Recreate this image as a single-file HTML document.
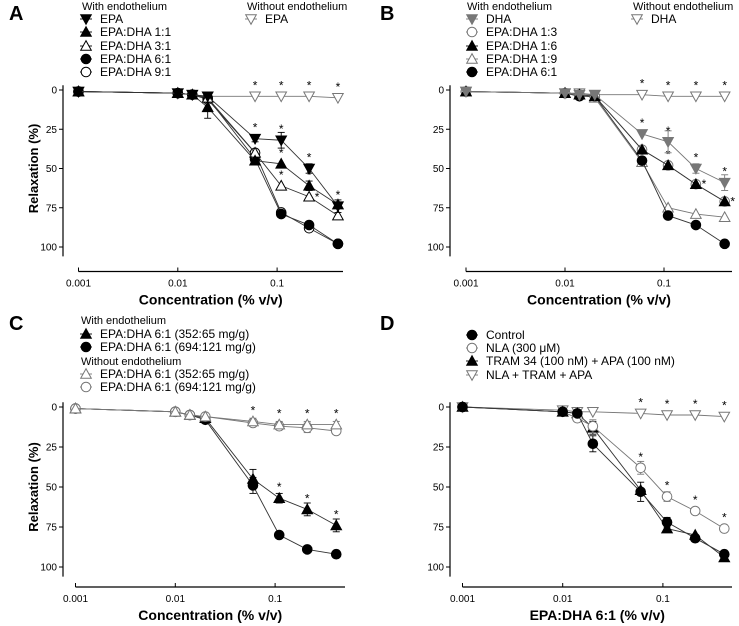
<!DOCTYPE html>
<html><head><meta charset="utf-8"><style>
html,body{margin:0;padding:0;background:#fff;}
svg{display:block;font-family:"Liberation Sans",Arial,sans-serif;}
</style></head><body>
<svg id="fig" width="739" height="626" viewBox="0 0 739 626" xmlns="http://www.w3.org/2000/svg"></svg>
<script>
const doses = [0.001,0.01,0.014,0.02,0.06,0.11,0.21,0.41];
const yTicks = [0,25,50,75,100];
const xTicks = [0.001,0.01,0.1];
const xTickLabels = ["0.001","0.01","0.1"];

// Panel A
const aEPA = [1,2,3,4,31,32,50,74];
const aEPA11 = [1,2,3,11,45,47,61,73];
const aEPA31 = [1,2,3,5,40,61,68,80];
const aEPA61 = [1,2,3,5,44,79,86,98];
const aEPA91 = [1,2,3,6,40,78,88,98];
const aEPAnoE = [1,2,3,4,4,4,4,5];
// Panel B
const bDHA = [1,2,3,3,28,33,50,59];
const bEPA13 = [1,2,3,4,38,48,60,71];
const bEPA16 = [1,2,3,4,38,48,60,71];
const bEPA19 = [1,2,3,5,46,75,79,81];
const bEPA61 = [1,2,4,4,45,80,86,98];
const bDHAnoE = [1,2,2,3,3,4,4,4];
// Panel C
const cTriE = [1,3,5,7,45,57,64,74];
const cCirE = [1,3,5,8,49,80,89,92];
const cTriNoE = [1,3,5,6,9,11,11,11];
const cCirNoE = [1,3,5,6,10,12,13,15];
// Panel D
const dControl = [0,3,4,23,53,72,82,92];
const dNLA = [0,3,7,12,38,56,65,76];
const dTRAM = [0,3,4,13,52,76,80,94];
const dAll = [0,2,3,3,4,5,5,6];

const NS="http://www.w3.org/2000/svg";
const svg=document.getElementById('fig');
function mk(tag,attrs,parent){const e=document.createElementNS(NS,tag);for(const k in attrs)e.setAttribute(k,attrs[k]);(parent||svg).appendChild(e);return e;}
function txt(s,attrs,parent){const e=mk('text',attrs,parent);e.textContent=s;return e;}

function marker(g,type,x,y,color){
  const fill = type.startsWith('f') ? color : '#fff';
  const r=4.8;
  let e;
  if(type.endsWith('circle')) e=mk('circle',{cx:x,cy:y,r:r,fill:fill,stroke:color,'stroke-width':1},g);
  else if(type.endsWith('up')) e=mk('polygon',{points:`${x},${y-r-0.5} ${x-r-0.5},${y+r-0.5} ${x+r+0.5},${y+r-0.5}`,fill:fill,stroke:color,'stroke-width':1},g);
  else e=mk('polygon',{points:`${x},${y+r+0.5} ${x-r-0.5},${y-r+0.5} ${x+r+0.5},${y-r+0.5}`,fill:fill,stroke:color,'stroke-width':1},g);
  return e;
}

function panel(cfg){
  const g=mk('g',{});
  
  
  const xs=v=>cfg.x0+(Math.log10(v)+3)*cfg.dec;
  const ys=v=>cfg.y0+v*cfg.yk;
  const l=txt(cfg.letter,{x:cfg.lx,y:cfg.ly,'font-size':20,'font-weight':'bold'},g);
  
  
  const ya=mk('line',{x1:cfg.ax,y1:ys(-3),x2:cfg.ax,y2:ys(106),stroke:'#000','stroke-width':1.2},g);
  
  
  yTicks.forEach(t=>{
    mk('line',{x1:cfg.ax-4,y1:ys(t),x2:cfg.ax,y2:ys(t),stroke:'#000','stroke-width':1},g);
    const tl=txt(String(t),{x:cfg.ax-6,y:ys(t)+3.5,'font-size':10,'text-anchor':'end'},g);
    
    
  });
  if(cfg.ytitle){
    const yt=txt(cfg.ytitle,{x:0,y:0,'font-size':13,'font-weight':'bold','text-anchor':'middle',transform:`translate(${cfg.ax-25},${ys(50)}) rotate(-90)`},g);
    
    
  }
  const xa=mk('line',{x1:xs(0.001),y1:cfg.xay,x2:cfg.xend,y2:cfg.xay,stroke:'#000','stroke-width':1.2},g);
  
  
  xTicks.forEach((t,i)=>{
    mk('line',{x1:xs(t),y1:cfg.xay-4,x2:xs(t),y2:cfg.xay,stroke:'#000','stroke-width':1},g);
    const tl=txt(xTickLabels[i],{x:xs(t),y:cfg.xay+15,'font-size':10,'text-anchor':'middle'},g);
    
    
  });
  const xt=txt(cfg.xtitle,{x:(xs(0.001)+cfg.xend)/2,y:cfg.xay+33,'font-size':14,'font-weight':'bold','text-anchor':'middle'},g);
  
  
  cfg.series.forEach(s=>{
    const sg=mk('g',{},g);
    
    
    const pts=s.data.map((v,i)=>xs(doses[i])+','+ys(v)).join(' ');
    mk('polyline',{points:pts,fill:'none',stroke:s.color==='#000'?'#333':s.color,'stroke-width':0.9},sg);
    if(s.err) s.err.forEach((e,i)=>{ if(!e) return;
      const x=xs(doses[i]),y1=ys(s.data[i]-e),y2=ys(s.data[i]+e);
      mk('line',{x1:x,y1:y1,x2:x,y2:y2,stroke:s.color,'stroke-width':0.9},sg);
      mk('line',{x1:x-3.5,y1:y1,x2:x+3.5,y2:y1,stroke:s.color,'stroke-width':0.9},sg);
      mk('line',{x1:x-3.5,y1:y2,x2:x+3.5,y2:y2,stroke:s.color,'stroke-width':0.9},sg);
    });
    s.data.forEach((v,i)=>{const m=marker(sg,s.type,xs(doses[i]),ys(v),s.color);
      
      });
    if(s.stars) s.stars.forEach(st=>{
      const idx=st[0], off=st[1]||0;
      const sx=xs(doses[idx])+(off?8:0), sy=ys(s.data[idx])-(off?-4:7);
      const t=txt('*',{x:sx,y:sy,'font-size':12,'text-anchor':'middle'},sg);
      
      
    });
  });
  cfg.legend.forEach(L=>{
    if(L.head){const h=txt(L.head,{x:L.x,y:L.y,'font-size':11},g);
      
      return;}
    const lg=mk('g',{},g);
    
    
    mk('line',{x1:L.x-6,y1:L.y-4,x2:L.x+6,y2:L.y-4,stroke:L.color,'stroke-width':0.9},lg);
    marker(lg,L.type,L.x,L.y-4,L.color);
    txt(L.label,{x:L.x+14,y:L.y,'font-size':12},lg);
  });
}

const K='#000', G='#777';
panel({letter:'A',lx:9,ly:20,ax:63,x0:78.5,dec:99.3,y0:90,yk:1.57,xay:271.5,xend:343,
  ytitle:'Relaxation (%)',xtitle:'Concentration (% v/v)',
  series:[
    {name:'epa-no-endo',data:aEPAnoE,type:'o-down',color:G,stars:[[4],[5],[6],[7]]},
    {name:'epa-9-1',data:aEPA91,type:'o-circle',color:K},
    {name:'epa-6-1',data:aEPA61,type:'f-circle',color:K},
    {name:'epa-3-1',data:aEPA31,type:'o-up',color:K,stars:[[5],[6,1]]},
    {name:'epa-1-1',data:aEPA11,type:'f-up',color:K,err:[0,0,0,7,0,0,3,0],stars:[[5],[6]]},
    {name:'epa',data:aEPA,type:'f-down',color:K,err:[0,0,0,0,2,5,3,4],stars:[[4],[5],[6],[7]]}],
  legend:[{head:'With endothelium',x:82,y:10},
    {x:86,y:23,type:'f-down',color:K,label:'EPA'},
    {x:86,y:36,type:'f-up',color:K,label:'EPA:DHA 1:1'},
    {x:86,y:50,type:'o-up',color:K,label:'EPA:DHA 3:1'},
    {x:86,y:63,type:'f-circle',color:K,label:'EPA:DHA 6:1'},
    {x:86,y:76,type:'o-circle',color:K,label:'EPA:DHA 9:1'},
    {head:'Without endothelium',x:247,y:10},
    {x:251,y:23,type:'o-down',color:G,label:'EPA'}]});

panel({letter:'B',lx:380,ly:20,ax:450,x0:466,dec:99,y0:90,yk:1.57,xay:271.5,xend:732,
  xtitle:'Concentration (% v/v)',
  series:[
    {name:'dha-no-endo',data:bDHAnoE,type:'o-down',color:G,stars:[[4],[5],[6],[7]]},
    {name:'epa-1-9',data:bEPA19,type:'o-up',color:G,stars:[[7]]},
    {name:'epa-6-1',data:bEPA61,type:'f-circle',color:K},
    {name:'epa-1-3',data:bEPA13,type:'o-circle',color:G},
    {name:'epa-1-6',data:bEPA16,type:'f-up',color:K,stars:[[5],[6,1],[7,1]]},
    {name:'dha',data:bDHA,type:'f-down',color:G,err:[0,0,0,0,0,7,3,5],stars:[[4],[5],[6],[7]]}],
  legend:[{head:'With endothelium',x:467,y:10},
    {x:472,y:23,type:'f-down',color:G,label:'DHA'},
    {x:472,y:36,type:'o-circle',color:G,label:'EPA:DHA 1:3'},
    {x:472,y:50,type:'f-up',color:K,label:'EPA:DHA 1:6'},
    {x:472,y:63,type:'o-up',color:G,label:'EPA:DHA 1:9'},
    {x:472,y:76,type:'f-circle',color:K,label:'EPA:DHA 6:1'},
    {head:'Without endothelium',x:633,y:10},
    {x:637,y:23,type:'o-down',color:G,label:'DHA'}]});

panel({letter:'C',lx:9,ly:330,ax:63,x0:75.5,dec:99.8,y0:407,yk:1.6,xay:587,xend:345,
  ytitle:'Relaxation (%)',xtitle:'Concentration (% v/v)',
  series:[
    {name:'cir-e',data:cCirE,type:'f-circle',color:K,err:[0,0,0,0,5,0,0,2]},
    {name:'tri-e',data:cTriE,type:'f-up',color:K,err:[0,0,0,0,6,3,4,4],stars:[[5],[6],[7]]},
    {name:'cir-no-e',data:cCirNoE,type:'o-circle',color:G,err:[0,0,0,0,0,0,3,0]},
    {name:'tri-no-e',data:cTriNoE,type:'o-up',color:G,err:[0,0,0,0,2,2,2,2],stars:[[4],[5],[6],[7]]}],
  legend:[{head:'With endothelium',x:81,y:324},
    {x:86,y:338,type:'f-up',color:K,label:'EPA:DHA 6:1 (352:65 mg/g)'},
    {x:86,y:351,type:'f-circle',color:K,label:'EPA:DHA 6:1 (694:121 mg/g)'},
    {head:'Without endothelium',x:81,y:365},
    {x:86,y:378,type:'o-up',color:G,label:'EPA:DHA 6:1 (352:65 mg/g)'},
    {x:86,y:391,type:'o-circle',color:G,label:'EPA:DHA 6:1 (694:121 mg/g)'}]});

panel({letter:'D',lx:380,ly:330,ax:450,x0:462.5,dec:100.2,y0:407,yk:1.6,xay:587,xend:732,
  xtitle:'EPA:DHA 6:1 (% v/v)',
  series:[
    {name:'all-inhibitors',data:dAll,type:'o-down',color:G,stars:[[4],[5],[6],[7]]},
    {name:'tram-apa',data:dTRAM,type:'f-up',color:K,err:[0,0,0,4,0,0,0,0]},
    {name:'nla',data:dNLA,type:'o-circle',color:G,err:[0,0,2,4,4,3,0,2],stars:[[4],[5],[6],[7]]},
    {name:'control',data:dControl,type:'f-circle',color:K,err:[0,0,0,5,6,3,0,0]}],
  legend:[
    {x:472,y:339,type:'f-circle',color:K,label:'Control'},
    {x:472,y:352,type:'o-circle',color:G,label:'NLA (300 μM)'},
    {x:472,y:365,type:'f-up',color:K,label:'TRAM 34 (100 nM) + APA (100 nM)'},
    {x:472,y:379,type:'o-down',color:G,label:'NLA + TRAM + APA'}]});
</script>
</body></html>
